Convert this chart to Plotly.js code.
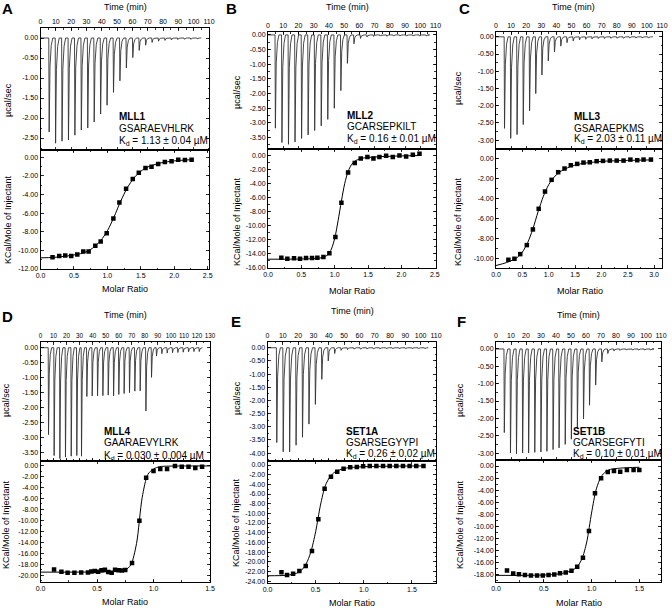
<!DOCTYPE html>
<html><head><meta charset="utf-8">
<script src="https://cdn.plot.ly/plotly-3.0.1.min.js"></script>
<style>html,body{margin:0;padding:0;background:#fff}</style>
</head><body><div id="chart" style="width:672px;height:608px"></div>
<script>
// ---------------- DATA ----------------
const letters = ['A','B','C','D','E','F'];
const names = ['MLL1','MLL2','MLL3','MLL4','SET1A','SET1B'];
const seqs = ['GSARAEVHLRK','GCARSEPKILT','GSARAEPKMS','GAARAEVYLRK','GSARSEGYYPI','GCARSEGFYTI'];
const kds = ['1.13 ± 0.04','0.16 ± 0.01','2.03 ± 0.11','0.030 ± 0.004','0.26 ± 0.02','0.10 ± 0.01'];
const runEnd = [105, 105, 104, 124, 105, 104];

const timeA = [5.4,9.6,13.8,18.0,22.2,26.4,30.6,34.8,39.0,43.2,47.4,51.6,55.8,60.0,64.2,68.4,72.6,76.8,81.0,85.2,89.4,93.6,97.8,102.0];
const peakA = [-2.35,-2.63,-2.58,-2.55,-2.43,-2.3,-2.25,-2.1,-1.9,-1.68,-1.36,-1.07,-0.75,-0.49,-0.31,-0.18,-0.11,-0.08,-0.06,-0.05,-0.04,-0.03,-0.03,-0.02];
const ratioA = [0.18,0.28,0.37,0.46,0.55,0.64,0.72,0.82,0.90,0.99,1.09,1.18,1.28,1.38,1.47,1.57,1.66,1.76,1.86,1.96,2.06,2.16,2.26];
const heatA = [-10.75,-10.6,-10.56,-10.6,-10.45,-10.13,-10.13,-9.49,-9.05,-8.16,-6.58,-4.85,-3.38,-2.34,-1.65,-1.15,-1.0,-0.72,-0.5,-0.43,-0.25,-0.29,-0.25];
const fitRatioA = [0,0.2,0.4,0.6,0.7,0.8,0.9,1.0,1.1,1.2,1.3,1.4,1.5,1.6,1.8,2.0,2.26];
const fitHeatA = [-10.8,-10.75,-10.6,-10.35,-10.1,-9.65,-8.95,-7.9,-6.4,-4.7,-3.25,-2.2,-1.5,-1.05,-0.6,-0.38,-0.25];

const timeB = [4.6,8.9,13.2,17.5,21.8,26.1,30.4,34.7,39.0,43.3,47.6,51.9,56.2,60.5,64.8,69.1,73.4,77.7,82.0,86.3,90.6,94.9,99.2,103.5];
const peakB = [-3.18,-3.67,-3.73,-3.65,-3.53,-3.41,-3.26,-3.1,-2.88,-2.5,-1.9,-0.97,-0.3,-0.12,-0.07,-0.05,-0.04,-0.04,-0.03,-0.03,-0.03,-0.03,-0.03,-0.03];
const ratioB = [0.2,0.29,0.39,0.48,0.57,0.66,0.74,0.83,0.92,1.01,1.10,1.20,1.30,1.39,1.49,1.58,1.67,1.77,1.87,1.97,2.07,2.17,2.27];
const heatB = [-14.53,-14.68,-14.63,-14.68,-14.58,-14.58,-14.53,-14.44,-13.92,-11.6,-6.75,-2.45,-1.09,-0.47,-0.24,-0.47,-0.24,-0.09,-0.24,-0.05,-0.19,0.05,0.19];
const fitRatioB = [0,0.5,0.8,0.9,0.95,1.0,1.05,1.1,1.15,1.2,1.25,1.3,1.4,1.6,2.0,2.27];
const fitHeatB = [-14.75,-14.72,-14.55,-14.1,-13.3,-11.8,-9.3,-6.5,-4.0,-2.3,-1.35,-0.85,-0.45,-0.25,-0.1,-0.05];

const timeC = [5.4,9.5,13.7,17.8,22.0,26.1,30.2,34.4,38.5,42.7,46.8,50.9,55.1,59.2,63.4,67.5,71.6,75.8,79.9,84.1,88.2,92.3,96.5,100.6];
const peakC = [-2.66,-2.95,-2.84,-2.55,-2.15,-1.65,-1.11,-0.7,-0.44,-0.27,-0.17,-0.12,-0.09,-0.07,-0.06,-0.05,-0.05,-0.04,-0.04,-0.04,-0.03,-0.03,-0.03,-0.03];
const ratioC = [0.235,0.35,0.46,0.585,0.70,0.81,0.93,1.055,1.18,1.30,1.42,1.54,1.66,1.78,1.91,2.03,2.16,2.29,2.42,2.55,2.68,2.80,2.94];
const heatC = [-10.17,-10.07,-9.6,-8.69,-7.11,-5.03,-3.29,-2.11,-1.34,-0.97,-0.64,-0.5,-0.37,-0.34,-0.23,-0.2,-0.17,-0.17,-0.17,-0.07,-0.13,-0.07,-0.07];
const fitRatioC = [0,0.2,0.4,0.5,0.6,0.7,0.8,0.9,1.0,1.1,1.2,1.4,1.6,2.0,2.5,2.95];
const fitHeatC = [-10.75,-10.45,-9.95,-9.4,-8.45,-7.05,-5.3,-3.75,-2.6,-1.85,-1.35,-0.8,-0.5,-0.25,-0.15,-0.1];

const timeD = [5.9,10.2,14.6,18.9,23.3,27.6,31.2,35.3,39.4,43.5,47.6,51.7,55.8,59.8,63.9,68.0,72.1,76.2,80.6,84.9,88.7,92.8,96.9,101.0,105.1,109.2,113.3,117.4,121.5];
const peakD = [-2.9,-3.6,-3.7,-3.65,-3.62,-3.6,-3.62,-1.63,-1.61,-1.61,-1.6,-1.58,-1.61,-1.56,-1.53,-1.5,-1.45,-1.44,-2.11,-0.99,-0.28,-0.2,-0.18,-0.17,-0.16,-0.15,-0.14,-0.13,-0.13];
const ratioD = [0.12,0.185,0.24,0.30,0.36,0.42,0.45,0.48,0.51,0.54,0.57,0.60,0.63,0.66,0.69,0.72,0.75,0.81,0.875,0.935,1.0,1.06,1.12,1.19,1.25,1.31,1.37,1.43];
const heatD = [-18.96,-19.39,-19.57,-19.57,-19.51,-19.5,-19.35,-19.25,-19.4,-19.1,-19.0,-19.45,-19.55,-19.0,-19.1,-19.15,-19.05,-17.8,-10.06,-2.2,-0.98,-0.6,-0.6,-0.06,-0.18,-0.18,-0.43,-0.18];
const fitRatioD = [0,0.3,0.6,0.7,0.75,0.8,0.85,0.9,0.95,1.0,1.05,1.1,1.5];
const fitHeatD = [-19.45,-19.45,-19.4,-19.3,-19.1,-18.1,-14.2,-5.8,-1.6,-0.6,-0.2,-0.1,-0.05];

const timeE = [5.8,10.0,14.2,18.4,22.6,26.8,31.0,35.2,39.4,43.6,47.8,52.0,56.2,60.4,64.6,68.8,73.0,77.2,81.4,85.6,89.8,94.0,98.2,102.4];
const peakE = [-3.6,-3.95,-3.95,-3.7,-3.4,-2.9,-2.15,-1.2,-0.5,-0.22,-0.1,-0.07,-0.05,-0.05,-0.04,-0.04,-0.04,-0.03,-0.03,-0.03,-0.03,-0.03,-0.03,-0.03];
const ratioE = [0.145,0.203,0.266,0.331,0.397,0.462,0.528,0.593,0.659,0.724,0.79,0.859,0.928,0.993,1.062,1.131,1.2,1.269,1.338,1.407,1.476,1.545,1.62];
const heatE = [-22.2,-22.76,-22.48,-21.93,-20.9,-17.8,-11.24,-4.9,-2.41,-1.38,-0.76,-0.48,-0.41,-0.28,-0.21,-0.22,-0.2,-0.21,-0.22,-0.2,-0.21,-0.22,-0.2];
const fitRatioE = [0,0.2,0.3,0.35,0.4,0.45,0.5,0.55,0.6,0.65,0.7,0.8,1.0,1.62];
const fitHeatE = [-22.9,-22.8,-22.4,-21.8,-20.5,-18.0,-13.8,-8.3,-4.3,-2.4,-1.45,-0.7,-0.35,-0.2];

const timeF = [5.3,9.4,13.4,17.5,21.5,25.6,29.7,33.7,37.8,41.8,45.9,50.0,54.0,58.1,62.1,66.2,70.3,74.3,78.4,82.4,86.5,90.6,94.6,98.7,102.7];
const peakF = [-2.41,-3.0,-3.02,-3.0,-3.0,-2.98,-2.97,-2.95,-2.9,-2.85,-2.75,-2.6,-2.3,-2.02,-1.62,-1.04,-0.37,-0.13,-0.06,-0.04,-0.03,-0.03,-0.03,-0.03,-0.03];
const ratioF = [0.115,0.18,0.24,0.303,0.366,0.43,0.49,0.55,0.61,0.67,0.73,0.79,0.85,0.91,0.973,1.036,1.10,1.17,1.235,1.30,1.37,1.44,1.50];
const heatF = [-17.34,-17.84,-17.95,-18.1,-18.17,-18.17,-18.17,-18.1,-18.0,-17.78,-17.67,-17.4,-16.7,-15.24,-10.77,-4.53,-2.04,-0.99,-0.83,-0.94,-0.66,-0.66,-0.66];
const fitRatioF = [0,0.3,0.5,0.6,0.7,0.8,0.85,0.9,0.95,1.0,1.05,1.1,1.15,1.2,1.3,1.5];
const fitHeatF = [-18.15,-18.15,-18.1,-18.0,-17.8,-17.3,-16.7,-15.4,-12.6,-7.8,-3.8,-1.8,-0.9,-0.55,-0.35,-0.2];

const times = [timeA,timeB,timeC,timeD,timeE,timeF];
const peaks = [peakA,peakB,peakC,peakD,peakE,peakF];
const ratios = [ratioA,ratioB,ratioC,ratioD,ratioE,ratioF];
const heats = [heatA,heatB,heatC,heatD,heatE,heatF];
const fitRatios = [fitRatioA,fitRatioB,fitRatioC,fitRatioD,fitRatioE,fitRatioF];
const fitHeats = [fitHeatA,fitHeatB,fitHeatC,fitHeatD,fitHeatE,fitHeatF];

// ---------------- GEOMETRY / STYLE (pixels) ----------------
const W = 672, H = 608;
const geom = [
 {bx:[40.5,209], top:[28,150], bot:[150,269], tMax:110, tR:[0,110], tFont:7, yT:[-2.8,0.25], yTlo:-2.5, yB:[-12,0.79], yBlo:-12, rR:[0,2.52], rMax:2.5, rStep:0.5,
  letter:[7,9], ttl:[125,7], mr:[125,289], yl1:[8,100], yl2:[8,220], txt:[117,116.5,128,140.5]},
 {bx:[268,435.5], top:[32,149], bot:[149,268], tMax:110, tR:[0,110], tFont:7, yT:[-3.89,0.1], yTlo:-3.5, yB:[-16,0.88], yBlo:-16, rR:[0,2.51], rMax:2.5, rStep:0.5,
  letter:[231,9], ttl:[347,7], mr:[352,291], yl1:[237,92], yl2:[237,222], txt:[345,115.5,127,138.5]},
 {bx:[496,662], top:[32,149], bot:[149,268], tMax:110, tR:[0,110], tFont:7, yT:[-3.26,0.14], yTlo:-3.0, yB:[-11,1.0], yBlo:-10, rR:[0,3.15], rMax:3.0, rStep:0.5,
  letter:[464,9], ttl:[573,7], mr:[580,291], yl1:[458,88], yl2:[458,222], txt:[572,116.5,128,139.5]},
 {bx:[40.5,210], top:[341.7,460.7], bot:[460.7,581.7], tMax:130, tR:[0,130], tFont:6.3, yT:[-3.77,0.2], yTlo:-3.5, yB:[-21.2,0.91], yBlo:-20, rR:[0,1.5], rMax:1.5, rStep:0.5,
  letter:[7,316], ttl:[125,315], mr:[125,602], yl1:[6,400], yl2:[6,525], txt:[102,431.5,443,455.5]},
 {bx:[267.5,436], top:[341.7,460.7], bot:[460.7,583], tMax:110, tR:[0,110], tFont:7, yT:[-4.29,0.23], yTlo:-4.0, yB:[-24.4,0.89], yBlo:-24, rR:[0,1.75], rMax:1.5, rStep:0.5,
  letter:[236,321], ttl:[352,311], mr:[352,603], yl1:[237,398], yl2:[236,522], txt:[344,431,442.5,453.5]},
 {bx:[496,661], top:[341.7,460], bot:[460,581.7], tMax:110, tR:[0,110], tFont:7, yT:[-3.2,0.21], yTlo:-3.0, yB:[-19.2,1.0], yBlo:-18, rR:[0,1.727], rMax:1.5, rStep:0.5,
  letter:[461,321], ttl:[578,315], mr:[579,603], yl1:[460,400], yl2:[460,525], txt:[571,431,442.5,453.5]}
];

const FONT = 'Liberation Sans, Arial, Helvetica, sans-serif';
const fx = p => p / W;
const fy = p => 1 - p / H;
function range(lo, hi, step, dec) {
  const v = [], t = [];
  const n = Math.round((hi - lo) / step);
  for (let k = 0; k <= n; k++) {
    const val = +(lo + k * step).toFixed(6);
    v.push(val);
    t.push(val.toFixed(dec));
  }
  return {v, t};
}
function axisBase(fs) {
  return {showline:true, linecolor:'#000', linewidth:1, mirror:'ticks', ticks:'inside', ticklen:3, tickwidth:0.8,
    tickcolor:'#000', showgrid:false, zeroline:false, tickangle:0, automargin:false,
    tickfont:{family:FONT, size:fs||7, color:'#000'}, fixedrange:true};
}

const traces = [];
const layout = {width:W, height:H, margin:{l:0,r:0,t:0,b:0}, paper_bgcolor:'#fff', plot_bgcolor:'#fff',
  showlegend:false, font:{family:FONT, color:'#000'}, annotations:[]};

for (let i = 0; i < 6; i++) {
  const g = geom[i];
  const nT = 2*i + 1, nB = 2*i + 2;
  const id = n => n === 1 ? '' : String(n);

  // thermogram line built from injection times / peak heights
  const tx = [0], ty = [0];
  times[i].forEach((t, k) => {
    const p = peaks[i][k];
    tx.push(t, t + 0.25, t + 0.8, t + 1.6, t + 2.6);
    ty.push(0, p, p * 0.3, p * 0.08, 0);
  });
  tx.push(runEnd[i]); ty.push(0);
  traces.push({x:tx, y:ty, xaxis:'x'+id(nT), yaxis:'y'+id(nT), type:'scatter', mode:'lines',
    line:{color:'#333', width:0.9}, hoverinfo:'skip'});

  traces.push({x:fitRatios[i], y:fitHeats[i], xaxis:'x'+id(nB), yaxis:'y'+id(nB), type:'scatter', mode:'lines',
    line:{color:'#000', width:1, shape:'spline', smoothing:0.8}, hoverinfo:'skip'});
  traces.push({x:ratios[i], y:heats[i], xaxis:'x'+id(nB), yaxis:'y'+id(nB), type:'scatter', mode:'markers',
    marker:{symbol:'square', size:4.5, color:'#000'}, hoverinfo:'skip'});

  const xd = [fx(g.bx[0]), fx(g.bx[1])];
  const tt = range(0, g.tMax, 10, 0);
  layout['xaxis'+id(nT)] = Object.assign(axisBase(g.tFont), {domain:xd, anchor:'y'+id(nT), side:'top', range:g.tR,
    tickmode:'array', tickvals:tt.v, ticktext:tt.t, minor:{tickmode:'linear', tick0:0, dtick:5, ticks:'inside', ticklen:1.5, tickcolor:'#000', showgrid:false}});
  const yt = range(g.yTlo, 0, 0.5, 2);
  layout['yaxis'+id(nT)] = Object.assign(axisBase(), {domain:[fy(g.top[1]), fy(g.top[0])], anchor:'x'+id(nT), range:g.yT,
    tickmode:'array', tickvals:yt.v, ticktext:yt.t, minor:{tickmode:'linear', tick0:0, dtick:0.25, ticks:'inside', ticklen:1.5, tickcolor:'#000', showgrid:false}});
  const rt = range(0, g.rMax, g.rStep, 1);
  layout['xaxis'+id(nB)] = Object.assign(axisBase(), {domain:xd, anchor:'y'+id(nB), side:'bottom', range:g.rR,
    tickmode:'array', tickvals:rt.v, ticktext:rt.t, minor:{tickmode:'linear', tick0:0, dtick:g.rStep/2, ticks:'inside', ticklen:1.5, tickcolor:'#000', showgrid:false}});
  const bt = range(g.yBlo, 0, 2, 2);
  layout['yaxis'+id(nB)] = Object.assign(axisBase(), {domain:[fy(g.bot[1]), fy(g.bot[0])], anchor:'x'+id(nB), range:g.yB,
    tickmode:'array', tickvals:bt.v, ticktext:bt.t, minor:{tickmode:'linear', tick0:0, dtick:1, ticks:'inside', ticklen:1.5, tickcolor:'#000', showgrid:false}});

  const ann = (x, y, text, opts) => layout.annotations.push(Object.assign({xref:'paper', yref:'paper', x:fx(x), y:fy(y),
    text, showarrow:false, font:{family:FONT, size:9, color:'#000'}, xanchor:'center', yanchor:'middle'}, opts||{}));
  ann(g.letter[0], g.letter[1], '<b>'+letters[i]+'</b>', {font:{family:FONT, size:15, color:'#000'}});
  ann(g.ttl[0], g.ttl[1], 'Time (min)');
  ann(g.mr[0], g.mr[1], 'Molar Ratio');
  ann(g.yl1[0], g.yl1[1], 'µcal/sec', {textangle:-90});
  ann(g.yl2[0], g.yl2[1], 'KCal/Mole of Injectant', {textangle:-90});
  const tf = {family:FONT, size:10, color:'#000'};
  ann(g.txt[0], g.txt[1], '<b>'+names[i]+'</b>', {xanchor:'left', font:tf});
  ann(g.txt[0], g.txt[2], seqs[i], {xanchor:'left', font:tf});
  ann(g.txt[0], g.txt[3], '<span style="color:#000">K<sub>d</sub> = '+kds[i]+' µM</span>', {xanchor:'left', font:tf});
}

Plotly.newPlot('chart', traces, layout, {staticPlot:true, displayModeBar:false});
</script>
</body></html>
